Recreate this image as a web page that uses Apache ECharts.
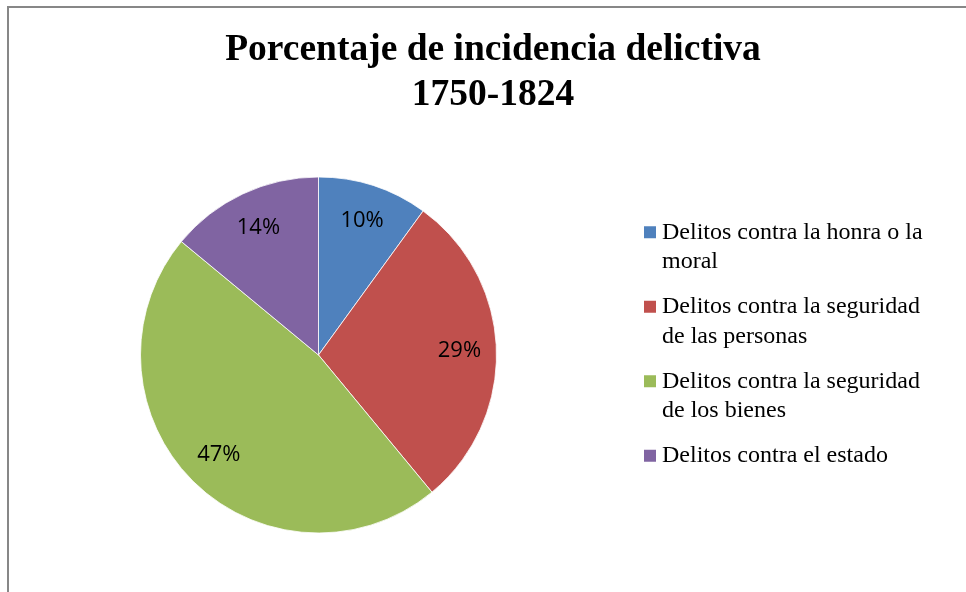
<!DOCTYPE html>
<html>
<head>
<meta charset="utf-8">
<title>Porcentaje de incidencia delictiva</title>
<script src="https://cdn.jsdelivr.net/npm/echarts@6/dist/echarts.min.js"></script>
<style type="text/css">
    *{
        padding: 0;
        margin: 0;
    }
    body{
        background: #fff;
        overflow: hidden;
    }
    #chart{
        width: 966px;
        height: 592px;
    }
</style>
</head>
<body>
<div id="chart"></div>
<script type="text/javascript">
    // datos
    let categorias = [
        'Delitos contra la honra o la moral',
        'Delitos contra la seguridad de las personas',
        'Delitos contra la seguridad de los bienes',
        'Delitos contra el estado'
    ];
    // texto de la leyenda, con los cortes de linea del original
    let textosLeyenda = [
        'Delitos contra la honra o la\nmoral',
        'Delitos contra la seguridad\nde las personas',
        'Delitos contra la seguridad\nde los bienes',
        'Delitos contra el estado\n'
    ];
    let porcentajes = [10, 29, 47, 14];
    let colores = ['#4F81BD', '#C0504D', '#9BBB59', '#8064A2'];

    let datos = categorias.map(function (nombre, i) {
        return {name: nombre, value: porcentajes[i]};
    });

    let myChart = echarts.init(document.getElementById('chart'));
    let option = {
        color: colores,
        animation: false,
        title: {
            text: 'Porcentaje de incidencia delictiva\n1750-1824',
            left: 493,
            top: 28,
            padding: 0,
            textAlign: 'center',
            textStyle: {
                fontFamily: 'Liberation Serif',
                fontWeight: 'bold',
                fontSize: 37.5,
                lineHeight: 45,
                color: '#000'
            }
        },
        legend: {
            orient: 'vertical',
            left: 642,
            top: 188,
            padding: 0,
            itemWidth: 14,
            itemHeight: 14,
            itemGap: -14,
            icon: 'rect',
            selectedMode: false,
            data: categorias,
            formatter: function (name) {
                // linea vacia arriba: el cuadro queda alineado con la primera linea
                return '\n' + textosLeyenda[categorias.indexOf(name)];
            },
            textStyle: {
                fontFamily: 'Liberation Serif',
                fontSize: 24,
                lineHeight: 29.5,
                color: '#000'
            }
        },
        graphic: [{
            type: 'rect',
            silent: true,
            shape: {x: 8, y: 7, width: 1200, height: 900},
            style: {fill: 'none', stroke: '#878787', lineWidth: 2}
        }],
        series: [
            {
                name: 'incidencia',
                type: 'pie',
                center: [318.5, 355],
                radius: [0, 178],
                startAngle: 90,
                clockwise: true,
                label: {show: false},
                labelLine: {show: false},
                itemStyle: {borderColor: '#fff', borderWidth: 0.8},
                emphasis: {disabled: true},
                data: datos
            },
            {
                // anillo transparente solo para colocar las etiquetas
                name: 'etiquetas',
                type: 'pie',
                center: [318.5, 355],
                radius: [98, 178],
                startAngle: 90,
                clockwise: true,
                silent: true,
                itemStyle: {color: 'transparent'},
                label: {
                    show: true,
                    position: 'inside',
                    formatter: '{c}%',
                    fontFamily: 'Open Sans',
                    fontSize: 22,
                    color: '#000'
                },
                labelLine: {show: false},
                emphasis: {disabled: true},
                data: datos
            }
        ]
    };
    myChart.setOption(option);
</script>
</body>
</html>
